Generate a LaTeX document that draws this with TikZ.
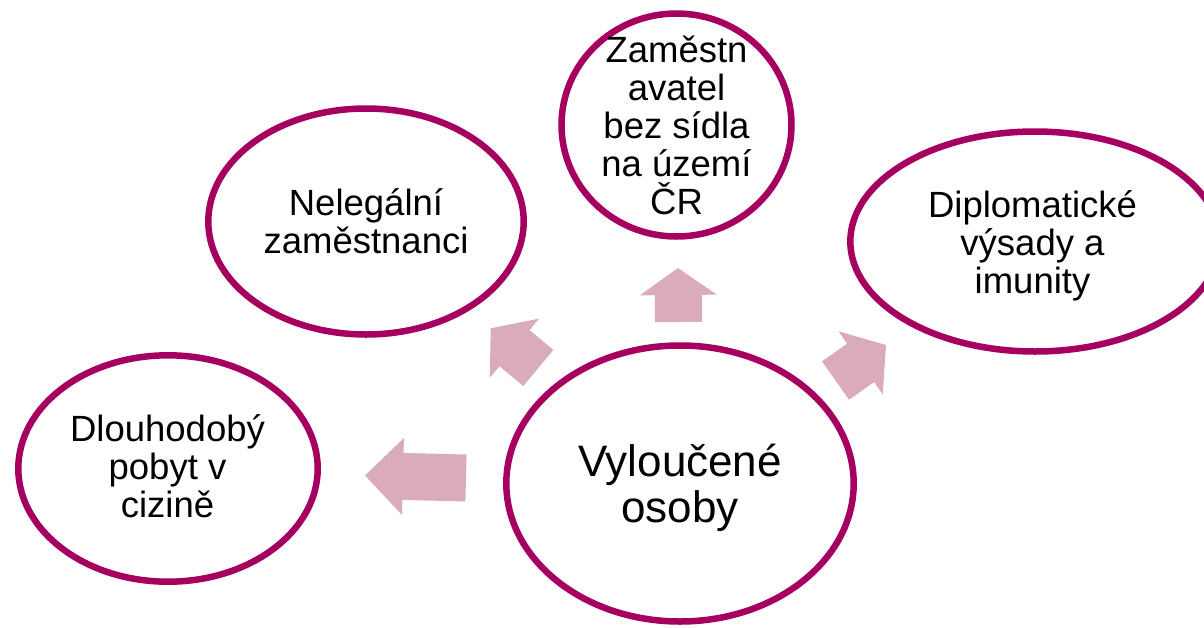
\documentclass[tikz,border=0pt]{standalone}
\usepackage{fontspec}
\setmainfont{Liberation Sans}
\usetikzlibrary{calc}
\definecolor{ringcol}{RGB}{165,0,95}
\definecolor{arrowcol}{RGB}{217,171,187}
\tikzset{
  ring/.style={draw=ringcol, line width=6.5pt, fill=white},
  lbl/.style={align=center, inner sep=0pt, font=\fontsize{36.5}{38}\selectfont},
  biglbl/.style={align=center, inner sep=0pt, font=\fontsize{44}{45.5}\selectfont},
  blockarrow/.style={fill=arrowcol, draw=none}
}
% #1 tail coordinate, #2 tip coordinate, #3 head length
\newcommand\myblockarrow[3]{%
  \coordinate (hb) at ($(#2)!#3!(#1)$);
  \fill[blockarrow] ($(#1)!23.5pt!90:(#2)$) -- ($(hb)!23.5pt!-90:(#1)$) --
    ($(hb)!38.5pt!-90:(#1)$) -- (#2) -- ($(hb)!38.5pt!90:(#1)$) --
    ($(hb)!23.5pt!90:(#1)$) -- ($(#1)!23.5pt!-90:(#2)$) -- cycle;
}
\begin{document}
\begin{tikzpicture}[x=1pt,y=-1pt]
\useasboundingbox (0,0) rectangle (1204,627);
\clip (0,0) rectangle (1204,627);
% rings
\draw[ring] (680,483.5) ellipse [x radius=173.7, y radius=138] coordinate (c);
\draw[ring] (676.5,125) ellipse [x radius=115, y radius=111.5];
\draw[ring] (366,221.5) ellipse [x radius=157.7, y radius=113];
\draw[ring] (1035,241.5) ellipse [x radius=184.7, y radius=110];
\draw[ring] (168,468.5) ellipse [x radius=149.7, y radius=113.2];
% labels
\node[biglbl] (center) at (680,488) {Vyloučené\\osoby};
\node[lbl] (top) at (676.5,125.5) {Zaměstn\\avatel\\bez sídla\\na území\\ČR};
\node[lbl] (nel) at (366,221.5) {Nelegální\\zaměstnanci};
\node[lbl] (dip) at (1032.5,246) {Diplomatické\\výsady a\\imunity};
\node[lbl] (dlo) at (167.5,466) {Dlouhodobý\\pobyt v\\cizině};
% arrows
\coordinate (aUt) at (678.5,322); \coordinate (aUp) at (678,268);
\coordinate (aLt) at (466,478);   \coordinate (aLp) at (365,475.5);
\coordinate (aNWt) at (538.3,368); \coordinate (aNWp) at (490.7,328.3);
\coordinate (aNEt) at (835.5,380.5); \coordinate (aNEp) at (886,345);
\myblockarrow{aUt}{aUp}{27pt}
\myblockarrow{aLt}{aLp}{38pt}
\myblockarrow{aNWt}{aNWp}{31pt}
\myblockarrow{aNEt}{aNEp}{31pt}
\end{tikzpicture}
\end{document}
